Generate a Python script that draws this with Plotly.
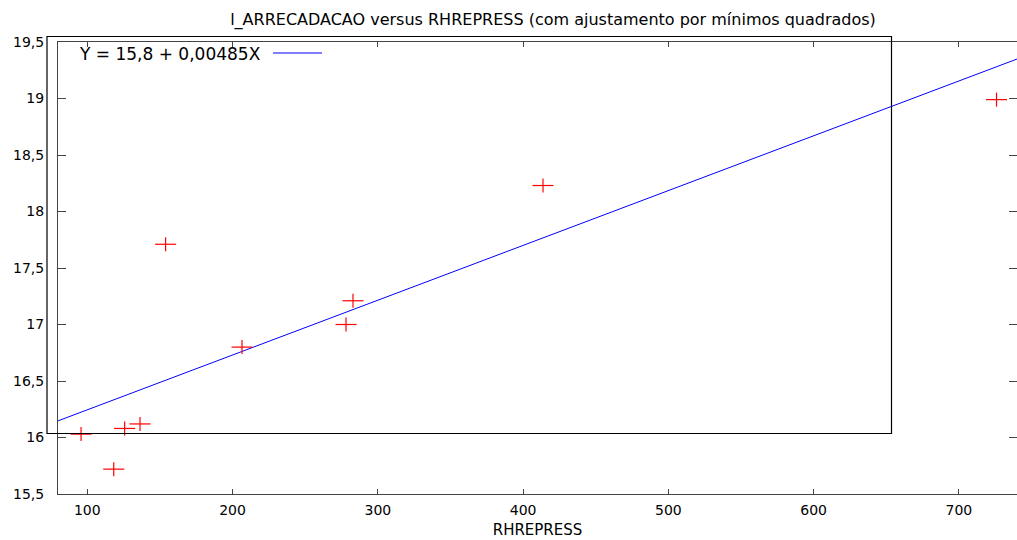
import plotly.graph_objects as go

# Observations
rhrepress = [95.7, 118.2, 125.7, 136.3, 153.9, 206.5, 278.1, 282.9, 413.7, 725.9]
l_arrecadacao = [16.03, 15.72, 16.08, 16.12, 17.71, 16.80, 17.00, 17.21, 18.23, 18.99]

# Least-squares fit
intercept = 15.76
slope = 0.00485

# Axes
x_range = [79.83, 740.0]
y_range = [15.5, 19.5]
x_ticks = [100, 200, 300, 400, 500, 600, 700]
y_ticks = [15.5, 16.0, 16.5, 17.0, 17.5, 18.0, 18.5, 19.0, 19.5]
y_tick_text = ["15,5", "16", "16,5", "17", "17,5", "18", "18,5", "19", "19,5"]

FONT = "DejaVu Sans"
W, H = 1017, 540
ML, MR, MT, MB = 58, 0, 42, 46
PW, PH = W - ML - MR, H - MT - MB


def px(x):
    return (x - ML) / PW


def py(y):
    return (H - MB - y) / PH


fit_label = "Y = {} + {}X".format(
    f"{intercept:.1f}".replace(".", ","), f"{slope:.5f}".replace(".", ",")
)

fig = go.Figure()

# Fitted line across the full x range
fig.add_trace(go.Scatter(
    x=x_range,
    y=[intercept + slope * x for x in x_range],
    mode="lines",
    line=dict(color="#0000ff", width=1),
    showlegend=False,
    hoverinfo="skip",
))

# "+" markers built from a horizontal and a vertical stroke
fig.add_trace(go.Scatter(
    x=rhrepress, y=l_arrecadacao, mode="markers",
    marker=dict(symbol="line-ew", size=15, line=dict(color="#ff0000", width=1.2)),
    showlegend=False,
))
fig.add_trace(go.Scatter(
    x=rhrepress, y=l_arrecadacao, mode="markers",
    marker=dict(symbol="line-ns", size=10, line=dict(color="#ff0000", width=1.2)),
    showlegend=False,
))

# Key box and key entry
fig.add_shape(type="rect", xref="paper", yref="paper",
              x0=px(47), x1=px(891.5), y0=py(433.5), y1=py(36.5),
              line=dict(color="#000000", width=1.2), layer="above")
fig.add_shape(type="line", xref="paper", yref="paper",
              x0=px(273), x1=px(322), y0=py(53), y1=py(53),
              line=dict(color="#0000ff", width=1))
fig.add_annotation(xref="paper", yref="paper", x=px(263), y=py(54),
                   xanchor="right", yanchor="middle", showarrow=False,
                   text=fit_label, font=dict(family=FONT, size=17, color="#000"))

fig.update_layout(
    width=W, height=H,
    margin=dict(l=ML, r=MR, t=MT, b=MB),
    paper_bgcolor="white", plot_bgcolor="white",
    font=dict(family=FONT, size=14, color="#000"),
    title=dict(
        text="l_ARRECADACAO versus RHREPRESS (com ajustamento por mínimos quadrados)",
        x=px(553), xref="paper", xanchor="center",
        y=1 - 19 / H, yref="container", yanchor="middle",
        font=dict(family=FONT, size=16, color="#000"),
    ),
    xaxis=dict(
        range=x_range, tickvals=x_ticks,
        ticks="inside", ticklen=5, tickcolor="#444", tickwidth=1,
        showline=True, linecolor="#444", linewidth=1, mirror="ticks",
        showgrid=False, zeroline=False,
        ticklabelstandoff=3,
        title=dict(text="RHREPRESS", standoff=7, font=dict(family=FONT, size=15)),
    ),
    yaxis=dict(
        range=y_range, tickvals=y_ticks, ticktext=y_tick_text,
        ticks="inside", ticklen=8, tickcolor="#444", tickwidth=1,
        showline=True, linecolor="#444", linewidth=1, mirror="ticks",
        showgrid=False, zeroline=False,
        ticklabelstandoff=10,
    ),
)

fig.write_html("out.html")
